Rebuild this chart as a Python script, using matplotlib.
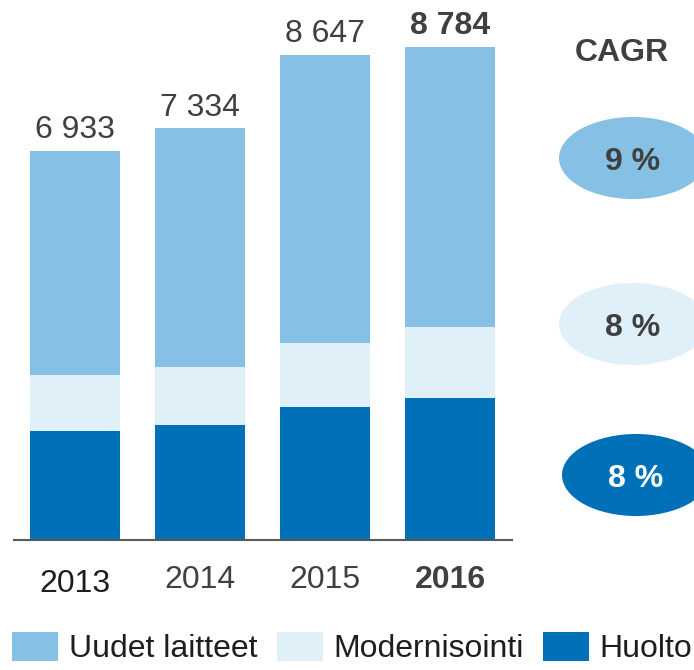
import matplotlib
matplotlib.use("Agg")
import matplotlib.pyplot as plt
from matplotlib.patches import Ellipse

plt.rcParams["font.family"] = ["Liberation Sans", "DejaVu Sans"]

years = ["2013", "2014", "2015", "2016"]
totals = [6933, 7334, 8647, 8784]
huolto = [1935, 2043, 2365, 2527]
modernisointi = [1003, 1039, 1147, 1272]
uudet = [t - h - m for t, h, m in zip(totals, huolto, modernisointi)]
total_labels = ["6 933", "7 334", "8 647", "8 784"]
series_names = ["Uudet laitteet", "Modernisointi", "Huolto"]
cagr_labels = ["9 %", "8 %", "8 %"]

C_UUDET, C_MOD, C_HUOLTO = "#86c0e5", "#dff0f9", "#0070b8"
TXT = "#404040"
FS = 23

W, H = 694, 670
fig = plt.figure(figsize=(W / 100, H / 100), dpi=100)
ax = fig.add_axes([14 / W, 130 / H, 498 / W, 540 / H])

x = range(len(years))
bw = 0.72
b1 = ax.bar(x, huolto, bw, color=C_HUOLTO, lw=0)
b2 = ax.bar(x, modernisointi, bw, bottom=huolto, color=C_MOD, lw=0)
bottoms = [h + m for h, m in zip(huolto, modernisointi)]
b3 = ax.bar(x, uudet, bw, bottom=bottoms, color=C_UUDET, lw=0)

ax.set_xlim(-0.488, 3.496)
ax.set_ylim(0, 9620)
for s in ("top", "right", "left"):
    ax.spines[s].set_visible(False)
ax.spines["bottom"].set_color("#595959")
ax.spines["bottom"].set_linewidth(1.5)
ax.set_xticks([])
ax.set_yticks([])

for i, (t, lab) in enumerate(zip(totals, total_labels)):
    last = i == len(totals) - 1
    ax.annotate(lab, (i, t), xytext=(0, 4), textcoords="offset points",
                ha="center", va="bottom", fontsize=FS, color=TXT,
                fontweight="bold" if last else "normal")

year_colors = ["#1e1e1e", TXT, TXT, TXT]
year_offsets = [-31.5, -29, -29, -29]
for i, y in enumerate(years):
    last = i == len(years) - 1
    ax.annotate(y, (i, 0), xycoords=("data", "axes fraction"),
                xytext=(0, year_offsets[i]), textcoords="offset points",
                ha="center", va="center", fontsize=FS, color=year_colors[i],
                fontweight="bold" if last else "normal")

# CAGR column, drawn in pixel coordinates on an overlay
ov = fig.add_axes([0, 0, 1, 1])
ov.set_xlim(0, W)
ov.set_ylim(H, 0)
ov.axis("off")
ov.text(622, 53, "CAGR", ha="center", va="center", fontsize=FS,
        fontweight="bold", color=TXT)
ell_y = [158, 324, 475]
ell_x = [633, 633, 636]
ell_c = [C_UUDET, C_MOD, C_HUOLTO]
txt_c = [TXT, TXT, "white"]
for lab, ex, ey, ec, tc in zip(cagr_labels, ell_x, ell_y, ell_c, txt_c):
    ov.add_patch(Ellipse((ex, ey), 148, 82, color=ec, lw=0))
    ov.text(ex, ey + 4, lab, ha="center", va="center", fontsize=FS,
            fontweight="bold", color=tc)

leg = fig.legend([b3, b2, b1], series_names, loc="center left",
                 bbox_to_anchor=(12 / W, 1 - 648 / H), ncol=3, frameon=False,
                 fontsize=FS, handlelength=1.45, handleheight=1.05,
                 handletextpad=0.33, columnspacing=0.6, borderpad=0,
                 borderaxespad=0)
for t in leg.get_texts():
    t.set_color("#1e1e1e")

fig.savefig("out.png", dpi=100)
